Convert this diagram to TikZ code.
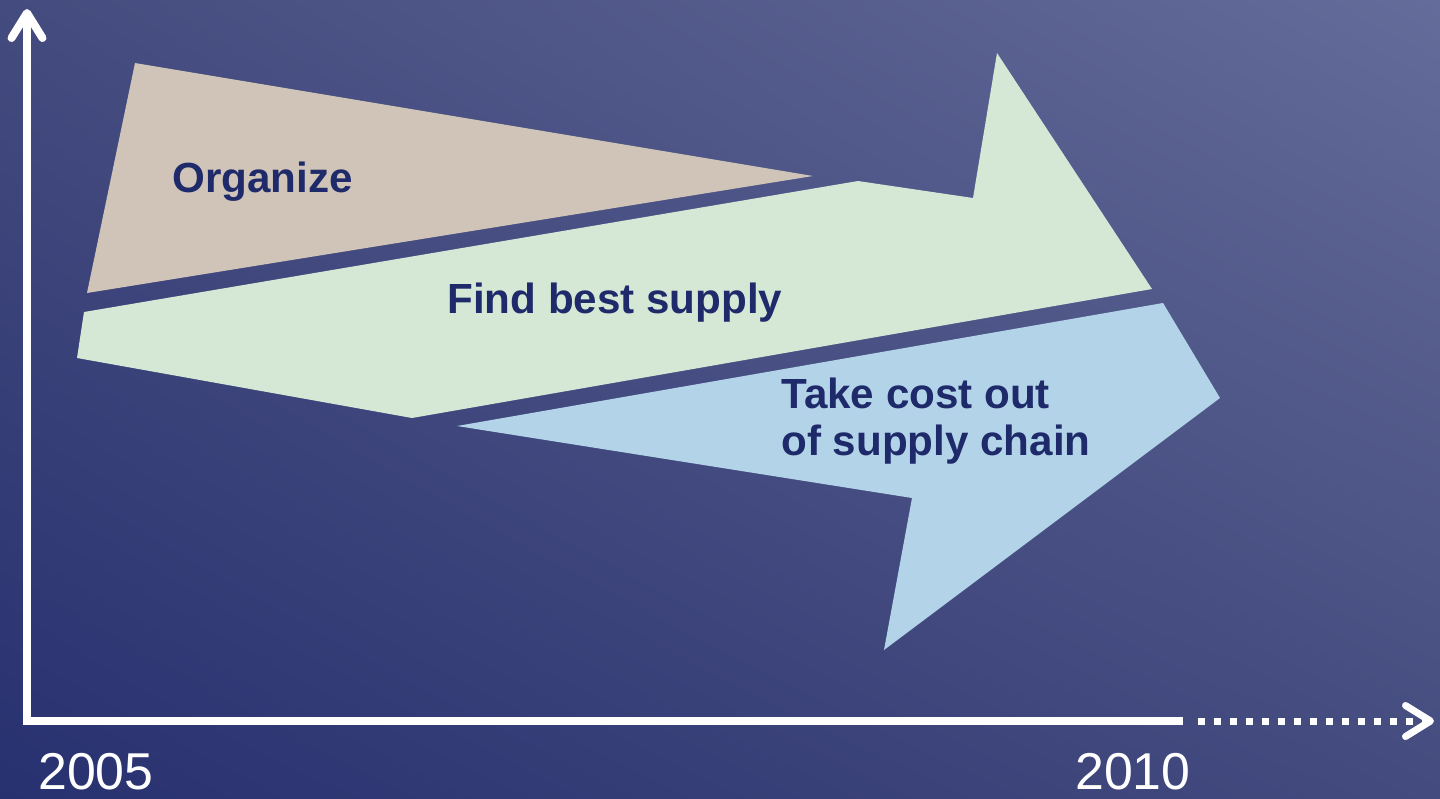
\documentclass[tikz,border=0pt]{standalone}
\usepackage{fontspec}
\setmainfont{Liberation Sans}
\usetikzlibrary{arrows.meta, shadings}
\definecolor{bgdark}{HTML}{283170}
\definecolor{bglight}{HTML}{646C9A}
\definecolor{bgtl}{HTML}{444B7E}
\definecolor{bgbr}{HTML}{444B7E}
\definecolor{tan}{HTML}{D0C4B8}
\definecolor{mint}{HTML}{D5E7D5}
\definecolor{sky}{HTML}{B3D4E8}
\definecolor{ink}{HTML}{1E2A6A}
\tikzset{
  axis/.style={white, line width=0.16cm},
  barb/.tip={Straight Barb[length=0.5cm, width=0.62cm, round]},
  phase/.style={inner sep=0pt, text=ink, font=\fontsize{24}{26.7}\selectfont\bfseries},
  year/.style={inner sep=0pt, text=white, font=\fontsize{29.5}{32}\selectfont}
}
\begin{document}
\begin{tikzpicture}[x=0.02cm, y=-0.02cm]
  \useasboundingbox (0,0) rectangle (1440,798);
  \shade[lower left=bgdark, upper right=bglight, upper left=bgtl, lower right=bgbr]
    (0,0) rectangle (1440,798);

  \fill[tan] (135,63) -- (813,176) -- (87,293) -- cycle;
  \fill[mint] (84,312) -- (858,181) -- (973,198) -- (997,53) -- (1152,289)
    -- (412,418) -- (77,358) -- cycle;
  \fill[sky] (457,426) -- (1163,303) -- (1220,398) -- (884,650) -- (912,498) -- cycle;

  \node[phase, anchor=base west] (organize) at (172,192) {Organize};
  \node[phase, anchor=base west] (findsupply) at (447,313) {Find best supply};
  \node[phase, anchor=base west, align=left] (takecost) at (781,455) {Take cost out\\of supply chain};

  \coordinate (ytip) at (27,9);
  \coordinate (origin) at (27,721);
  \coordinate (solidend) at (1183,721);
  \coordinate (dotstart) at (1198,721);
  \coordinate (xtip) at (1434,721);

  \draw[axis, {barb}-, line join=miter] (ytip) -- (origin) -- (solidend);
  \draw[axis, line width=0.14cm, dash pattern=on 0.14cm off 0.18cm, -{barb}] (dotstart) -- (xtip);

  \node[year] (start) at (96,772) {2005};
  \node[year] (finish) at (1133,772) {2010};
\end{tikzpicture}
\end{document}
